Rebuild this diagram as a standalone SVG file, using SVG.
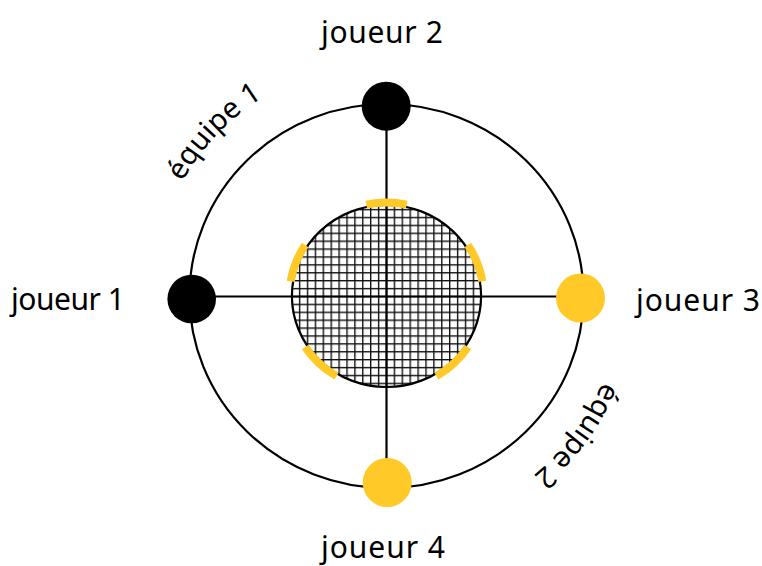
<svg xmlns="http://www.w3.org/2000/svg" width="762" height="566" viewBox="0 0 762 566">
  <style>
    .lbl { font-family: "Noto Sans", "Liberation Sans", sans-serif; font-size: 30px; fill: #000; }
    .team { font-family: "Noto Sans", "Liberation Sans", sans-serif; font-size: 29px; fill: #000; }
    .line { fill: none; stroke: #000; stroke-width: 2.2; }
    .dash { fill: none; stroke: #FFCA28; stroke-width: 8; stroke-linecap: butt; }
    .black { fill: #000; }
    .yellow { fill: #FFCA28; }
  </style>
  <defs>
    <pattern id="grid" patternUnits="userSpaceOnUse" x="385.8" y="295.8" width="7.9" height="7.9">
      <rect x="0" y="0" width="1.4" height="7.9" fill="#111"/>
      <rect x="0" y="0" width="7.9" height="1.4" fill="#111"/>
    </pattern>
    <path id="arc1" d="M 153.08 288.9 A 233 233 0 0 1 351.56 64.56"/>
    <path id="arc2" d="M 618.1 274.7 A 233 233 0 0 1 446.3 520.1"/>
  </defs>
  <rect width="762" height="566" fill="#fff"/>

  <g id="connectors">
    <ellipse class="line" cx="386.5" cy="296" rx="197" ry="192"/>
    <ellipse id="center-field" cx="386.5" cy="296" rx="94.6" ry="91" fill="url(#grid)" stroke="#000" stroke-width="2.2"/>
    <line class="line" x1="192" y1="296.5" x2="580" y2="296.5"/>
    <line class="line" x1="386.5" y1="106" x2="386.5" y2="483"/>
  </g>

  <g id="yellow-marks">
    <path class="dash" d="M 406.7 204.55 A 97 93.5 0 0 0 366.3 204.55"/>
    <path class="dash" d="M 305.15 245.08 A 97 93.5 0 0 0 290.7 281.37"/>
    <path class="dash" d="M 482.3 281.37 A 97 93.5 0 0 0 467.85 245.08"/>
    <path class="dash" d="M 305.15 346.92 A 97 93.5 0 0 0 336.54 376.15"/>
    <path class="dash" d="M 436.46 376.15 A 97 93.5 0 0 0 467.85 346.92"/>
  </g>

  <g id="joueur1">
    <circle class="black" cx="191.7" cy="299" r="24.3"/>
    <text class="lbl" x="11" y="310" textLength="114">joueur 1</text>
  </g>
  <g id="joueur2">
    <circle class="black" cx="386.2" cy="106.2" r="24.5"/>
    <text class="lbl" x="321" y="43" textLength="122">joueur 2</text>
  </g>
  <g id="joueur3">
    <circle class="yellow" cx="580.5" cy="298" r="24.5"/>
    <text class="lbl" x="636" y="311" textLength="124">joueur 3</text>
  </g>
  <g id="joueur4">
    <circle class="yellow" cx="387.2" cy="482.5" r="24.5"/>
    <text class="lbl" x="321" y="558" textLength="124">joueur 4</text>
  </g>

  <g id="equipe1">
    <text class="team"><textPath href="#arc1" startOffset="171" text-anchor="middle">équipe 1</textPath></text>
  </g>
  <g id="equipe2">
    <text class="team"><textPath href="#arc2" startOffset="168" text-anchor="middle">équipe 2</textPath></text>
  </g>
</svg>
